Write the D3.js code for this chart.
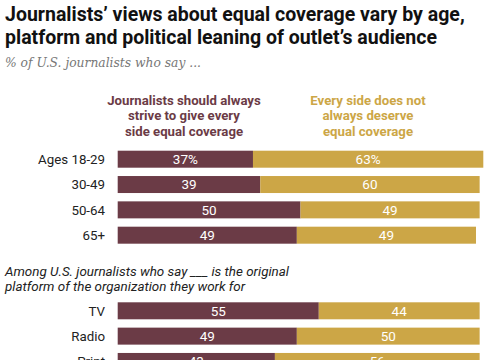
<!DOCTYPE html>
<html><head><meta charset="utf-8">
<script src="https://cdn.jsdelivr.net/npm/d3@7"></script>
<style>
body{margin:0;background:#fff;}
svg{display:block;}
</style></head>
<body>
<script>
const ageCats = ["Ages 18-29","30-49","50-64","65+"];
const ageStrive = [37,39,50,49];
const ageNot = [63,60,49,49];
const platCats = ["TV","Radio","Print"];
const platStrive = [55,49,43];
const platNot = [44,50,56];
const seriesNames = [["Journalists should always","strive to give every","side equal coverage"],["Every side does not","always deserve","equal coverage"]];
const titleLines = ["Journalists’ views about equal coverage vary by age,","platform and political leaning of outlet’s audience"];
const subtitle = "% of U.S. journalists who say ...";
const sectionLines = ["Among U.S. journalists who say ___ is the original","platform of the organization they work for"];

const W=485,H=360;
const maroon="#6b3b46", gold="#cca646";
const svg=d3.select("body").append("svg").attr("width",W).attr("height",H);
const font="Roboto, 'Open Sans', sans-serif";

svg.append("g").selectAll("text").data(titleLines).join("text")
  .attr("x",5).attr("y",(d,i)=>21+i*22.5)
  .attr("font-family",font).attr("font-weight",700).attr("font-size",19.5)
  .attr("fill","#111").text(d=>d);

svg.append("text").attr("x",5).attr("y",67)
  .attr("font-family","'DejaVu Serif', Georgia, serif").attr("font-style","italic")
  .attr("font-size",12.3).attr("fill","#777").text(subtitle);

const x=d3.scaleLinear().domain([0,100]).range([117.7,483.3]);

// legend headers
const hdrX=[184,368], hdrC=[maroon,gold];
seriesNames.forEach((lines,k)=>{
  svg.append("g").selectAll("text").data(lines).join("text")
    .attr("x",hdrX[k]).attr("y",(d,i)=>104.5+i*15.5)
    .attr("text-anchor","middle")
    .attr("font-family",font).attr("font-weight",700).attr("font-size",13.2)
    .attr("fill",hdrC[k]).text(d=>d);
});

function block(cats,a,b,y0,pct){
  const step=25.33, bw=17;
  const y=d3.scaleBand().domain(cats).range([y0,y0+(cats.length-1)*step+bw]).paddingInner((step-bw)/step).paddingOuter(0);
  const g=svg.append("g");
  const rows=cats.map((c,i)=>({c,a:a[i],b:b[i],i}));
  const r=g.selectAll("g").data(rows).join("g");
  r.append("rect").attr("x",d=>x(0)).attr("y",d=>y(d.c)).attr("width",d=>x(d.a)-x(0)).attr("height",y.bandwidth())
    .attr("fill",maroon);
  r.append("rect").attr("x",d=>x(d.a)).attr("y",d=>y(d.c)).attr("width",d=>x(d.a+d.b)-x(d.a)).attr("height",y.bandwidth())
    .attr("fill",gold);
  r.append("text").attr("x",105).attr("y",d=>y(d.c)+y.bandwidth()/2).attr("dy","0.36em")
    .attr("text-anchor","end").attr("font-family",font).attr("font-size",13.3).attr("fill","#222").text(d=>d.c);
  r.append("text").attr("x",d=>(x(0)+x(d.a))/2).attr("y",d=>y(d.c)+y.bandwidth()/2).attr("dy","0.36em")
    .attr("text-anchor","middle").attr("font-family",font).attr("font-size",13.5).attr("fill","#fff")
    .text(d=>d.a+(pct&&d.i===0?"%":""));
  r.append("text").attr("x",d=>(x(d.a)+x(d.a+d.b))/2).attr("y",d=>y(d.c)+y.bandwidth()/2).attr("dy","0.36em")
    .attr("text-anchor","middle").attr("font-family",font).attr("font-size",13.5).attr("fill","#fff")
    .text(d=>d.b+(pct&&d.i===0?"%":""));
}
block(ageCats,ageStrive,ageNot,150.7,true);

svg.append("g").selectAll("text").data(sectionLines).join("text")
  .attr("x",5).attr("y",(d,i)=>276+i*15)
  .attr("font-family",font).attr("font-style","italic").attr("font-size",13.4)
  .attr("fill","#222").text(d=>d);

block(platCats,platStrive,platNot,302.3,false);
</script>
</body></html>
